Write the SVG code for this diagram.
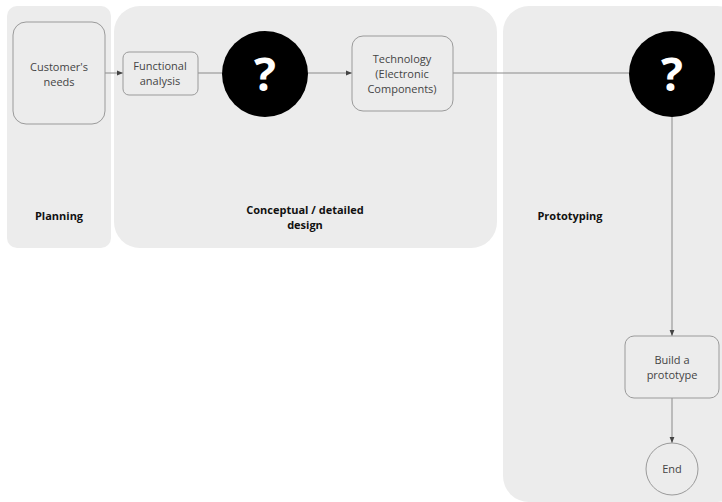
<svg xmlns="http://www.w3.org/2000/svg" width="722" height="502" viewBox="0 0 722 502">
<defs>
<style>
.lane{fill:#ececec;stroke:none}
.box{fill:#ececec;stroke:#9a9a9a;stroke-width:1}
.t{font-family:"Open Sans","Noto Sans",sans-serif;font-size:11px;fill:#444;text-anchor:middle}
.lbl{font-family:"Open Sans","Noto Sans",sans-serif;font-size:11px;font-weight:bold;fill:#111;text-anchor:middle}
.q{font-family:"Open Sans","Noto Sans",sans-serif;font-size:46px;font-weight:bold;fill:#fff;text-anchor:middle}
.c{stroke:#8a8a8a;stroke-width:1;fill:none}
</style>
<marker id="ah" viewBox="0 0 10 10" refX="10" refY="5" markerWidth="6" markerHeight="6" orient="auto" markerUnits="userSpaceOnUse">
<path d="M0,1 L10,5 L0,9 z" fill="#444"/>
</marker>
</defs>
<rect width="722" height="502" fill="#fff"/>
<g id="lanes">
<rect class="lane" x="7" y="6" width="104" height="242" rx="10"/>
<rect class="lane" x="114" y="6" width="383" height="242" rx="26"/>
<rect class="lane" x="503" y="6" width="240" height="496" rx="26"/>
<text class="lbl" x="59" y="220">Planning</text>
<text class="lbl" x="305" y="214">Conceptual / detailed</text>
<text class="lbl" x="305" y="229">design</text>
<text class="lbl" x="570" y="220">Prototyping</text>
</g>
<g id="connectors">
<line class="c" x1="105" y1="73" x2="123" y2="73" marker-end="url(#ah)"/>
<line class="c" x1="198" y1="73" x2="222" y2="73"/>
<line class="c" x1="308" y1="73" x2="352" y2="73" marker-end="url(#ah)"/>
<line class="c" x1="453" y1="73" x2="629" y2="73"/>
<line class="c" x1="672" y1="117" x2="672" y2="336" marker-end="url(#ah)"/>
<line class="c" x1="672" y1="398" x2="672" y2="443" marker-end="url(#ah)"/>
</g>
<g id="customers-needs">
<rect class="box" x="13" y="22" width="92" height="102" rx="13"/>
<text class="t" x="59" y="71">Customer's</text>
<text class="t" x="59" y="86">needs</text>
</g>
<g id="functional-analysis">
<rect class="box" x="123" y="52" width="75" height="43" rx="6"/>
<text class="t" x="160" y="70">Functional</text>
<text class="t" x="160" y="85">analysis</text>
</g>
<g id="unknown-1">
<circle cx="265" cy="74" r="43" fill="#000"/>
<text class="q" x="265" y="91">?</text>
</g>
<g id="technology">
<rect class="box" x="352" y="36" width="101" height="75" rx="11"/>
<text class="t" x="402" y="63">Technology</text>
<text class="t" x="402" y="78">(Electronic</text>
<text class="t" x="402" y="93">Components)</text>
</g>
<g id="unknown-2">
<circle cx="672" cy="74" r="43" fill="#000"/>
<text class="q" x="672" y="91">?</text>
</g>
<g id="build-prototype">
<rect class="box" x="625" y="336" width="94" height="62" rx="9"/>
<text class="t" x="672" y="364">Build a</text>
<text class="t" x="672" y="379">prototype</text>
</g>
<g id="end">
<circle class="box" cx="672" cy="469" r="26"/>
<text class="t" x="672" y="473">End</text>
</g>
</svg>
